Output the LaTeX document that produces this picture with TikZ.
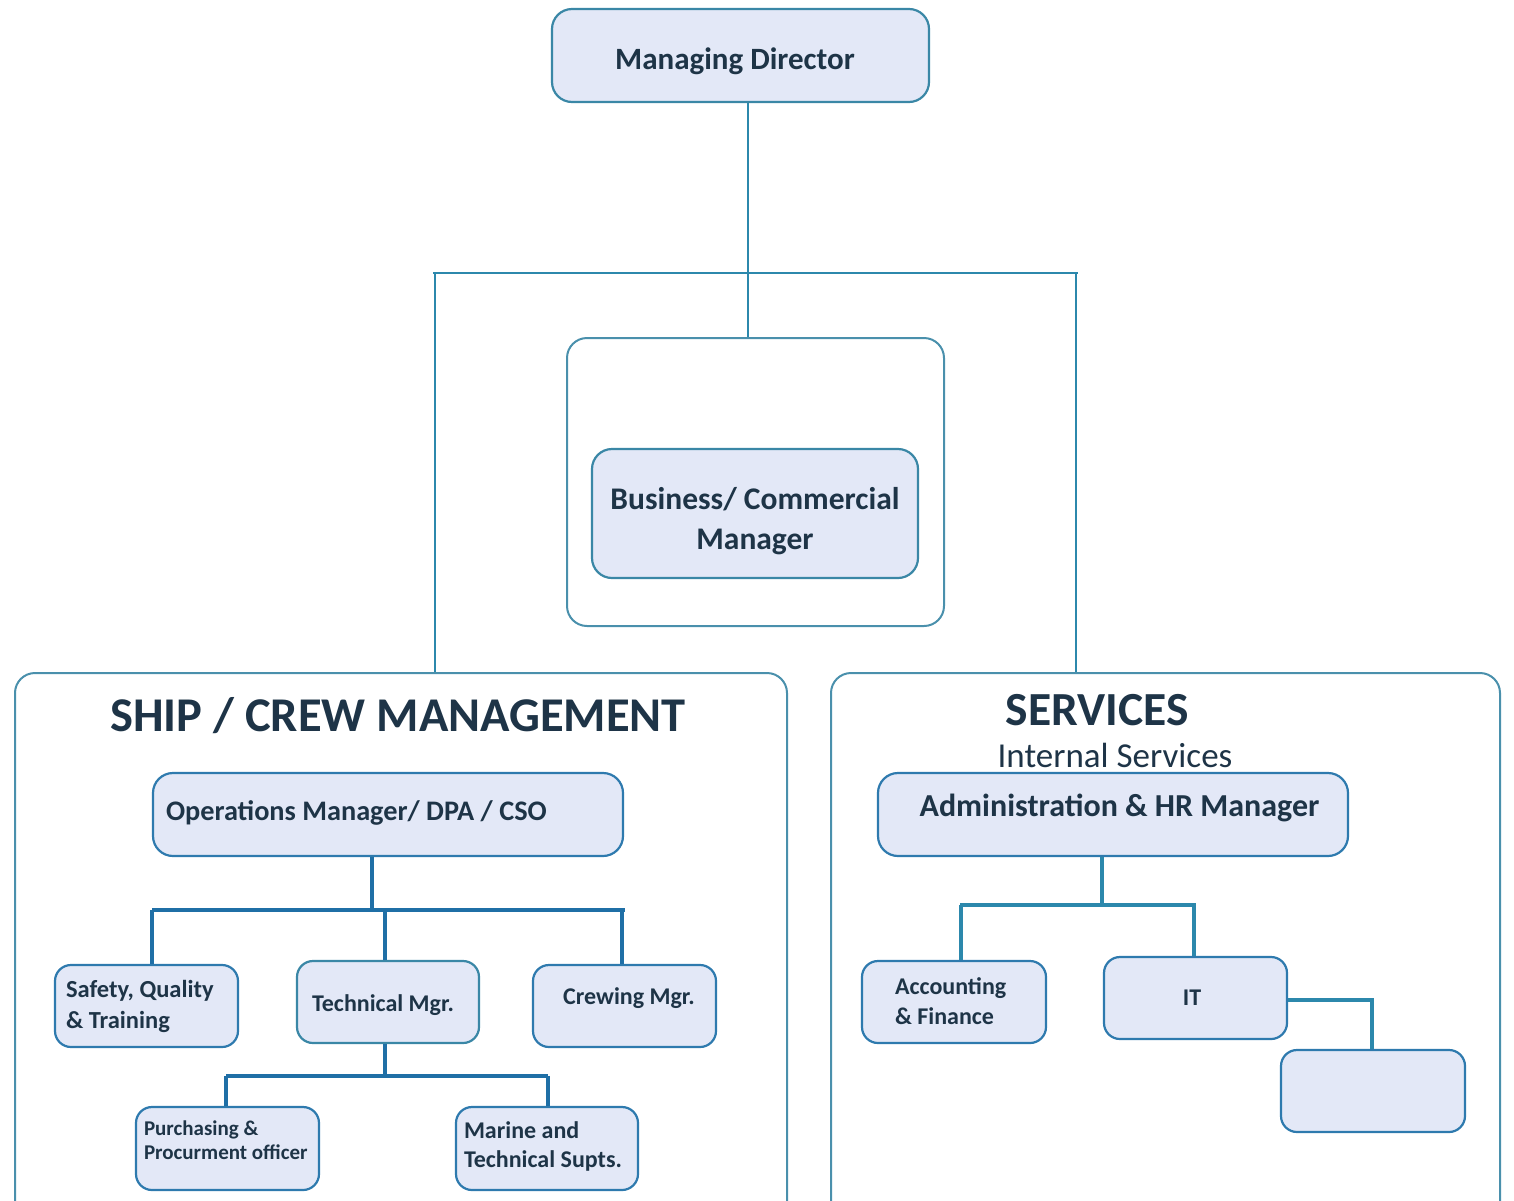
\documentclass[tikz,border=0pt]{standalone}
\usepackage{fontspec}
\setmainfont{Carlito}
\definecolor{boxfill}{HTML}{E3E8F7}
\definecolor{boxline}{HTML}{3A87A6}
\definecolor{smallline}{HTML}{2E7AAE}
\definecolor{grpline}{HTML}{4A90AC}
\definecolor{connA}{HTML}{2C88AC}
\definecolor{connB}{HTML}{1F6FA6}
\definecolor{txt}{HTML}{1E3447}
\newcommand{\fs}[2]{\fontsize{#1}{#2}\selectfont}
% \lbox{raise}{width}{size}{skip}{text}: left aligned block, first baseline at raise
\newcommand{\lbox}[5]{\raisebox{#1}[0pt][0pt]{\parbox[t]{#2}{\raggedright\fs{#3}{#4}#5}}}
% \ltxt{raise}{hshift}{size}{text}: single line, baseline at raise
\newcommand{\ltxt}[4]{\raisebox{#1}[0pt][0pt]{\fs{#3}{#3}\hspace*{#2}#4}}
\begin{document}
\begin{tikzpicture}[x=1pt,y=-1pt,
  box/.style={draw=boxline, fill=boxfill, line width=2.2pt, rounded corners=20pt, inner sep=0pt, text=txt, font=\bfseries},
  sbox/.style={box, draw=smallline, rounded corners=16pt},
  grp/.style={draw=grpline, line width=2pt, rounded corners=20pt, inner sep=0pt},
  connTop/.style={draw=connA, line width=2pt},
  connLow/.style={draw=connB, line width=3.5pt},
  ttl/.style={text=txt, font=\bfseries, inner sep=0pt}]
\useasboundingbox (0,0) rectangle (1514,1200);
\clip (0,0) rectangle (1514,1200);

% group boxes
\node[grp, minimum width=377pt, minimum height=288pt] (bizgrp) at (755.5,482) {};
\node[grp, minimum width=772pt, minimum height=560pt] (ship) at (401,953) {};
\node[grp, minimum width=669pt, minimum height=560pt] (serv) at (1165.5,953) {};

% top
\node[box, minimum width=377pt, minimum height=93pt] (md) at (740.5,55.5)
  {\ltxt{-13.5pt}{-11pt}{31}{Managing Director}};
\node[box, minimum width=326pt, minimum height=129pt] (biz) at (755,513.5)
  {\raisebox{4pt}[0pt][0pt]{\parbox[t]{320pt}{\centering\fs{31.5}{40}Business/ Commercial\\ Manager}}};

% titles
\node[ttl, font=\bfseries\fs{48.5}{52}] (shipttl) at (398,716) {SHIP / CREW MANAGEMENT};
\node[ttl, font=\bfseries\fs{47.5}{50}] (servttl) at (1097,710) {SERVICES};
\node[ttl, font=\mdseries\fs{35}{40}] (internal) at (1115,755) {Internal Services};

% ship boxes
\node[box, draw=smallline, minimum width=470pt, minimum height=83pt] (ops) at (388,814.5)
  {\lbox{-5.5pt}{444pt}{28.3}{32}{Operations Manager/ DPA / CSO}};
\node[sbox, minimum width=183pt, minimum height=82pt] (safety) at (146.5,1006)
  {\lbox{8.5pt}{161pt}{24.5}{31}{Safety, Quality\\ \& Training}};
\node[sbox, draw=boxline, minimum width=182pt, minimum height=82pt] (tech) at (388,1002)
  {\ltxt{-9pt}{-10pt}{24}{Technical Mgr.}};
\node[sbox, minimum width=183pt, minimum height=82pt] (crew) at (624.5,1006)
  {\ltxt{2pt}{9pt}{24}{Crewing Mgr.}};
\node[sbox, minimum width=183pt, minimum height=83pt] (purch) at (227.5,1148.5)
  {\lbox{13.5pt}{167pt}{21}{24}{Purchasing \&\\ \mbox{Procurment officer}}};
\node[sbox, minimum width=182pt, minimum height=83pt] (marine) at (547,1148.5)
  {\lbox{10.5pt}{166pt}{24}{29}{Marine and\\ Technical Supts.}};

% services boxes
\node[box, draw=smallline, minimum width=470pt, minimum height=83pt] (admin) at (1113,814.5)
  {\ltxt{-2pt}{13pt}{32}{Administration \& HR Manager}};
\node[sbox, minimum width=184pt, minimum height=82pt] (acct) at (954,1002)
  {\lbox{8pt}{118pt}{24}{30}{Accounting\\ \& Finance}};
\node[sbox, minimum width=183pt, minimum height=82pt] (it) at (1195.5,998)
  {\ltxt{-7pt}{-7pt}{24}{IT}};
\node[sbox, minimum width=184pt, minimum height=82pt] (empty) at (1373,1091) {};

% top connectors
\coordinate (hl) at (433,273);
\coordinate (hr) at (1078,273);
\draw[connTop] (md.south -| 748,0) -- (bizgrp.north -| 748,0);
\draw[connTop] (hl) -- (hr);
\draw[connTop] (435,273) -- (ship.north -| 435,0);
\draw[connTop] (1076,273) -- (serv.north -| 1076,0);

% ship tree
\coordinate (sa) at (152,910);
\coordinate (sb) at (625,910);
\draw[connLow] (ops.south -| 372,0) -- (372,910);
\draw[connLow] (sa) -- (sb);
\draw[connLow] (sa) -- (safety.north -| sa);
\draw[connLow] (385,910) -- (tech.north -| 385,0);
\draw[connLow] (622,910) -- (crew.north -| 622,0);
\coordinate (ta) at (226,1076);
\coordinate (tb) at (548,1076);
\draw[connLow] (tech.south -| 385,0) -- (385,1076);
\draw[connLow] (ta) -- (tb);
\draw[connLow] (ta) -- (purch.north -| ta);
\draw[connLow] (tb) -- (marine.north -| tb);

% services tree
\coordinate (va) at (960,905);
\coordinate (vb) at (1196,905);
\draw[connLow, draw=connA] (admin.south -| 1102,0) -- (1102,905);
\draw[connLow, draw=connA] (va) -- (vb);
\draw[connLow, draw=connA] (961,905) -- (acct.north -| 961,0);
\draw[connLow, draw=connA] (1194,905) -- (it.north -| 1194,0);
\coordinate (ic) at (1372,1000);
\draw[connLow, draw=connA] (it.east |- 0,1000) -- (ic) -- (empty.north -| ic);
\end{tikzpicture}
\end{document}
